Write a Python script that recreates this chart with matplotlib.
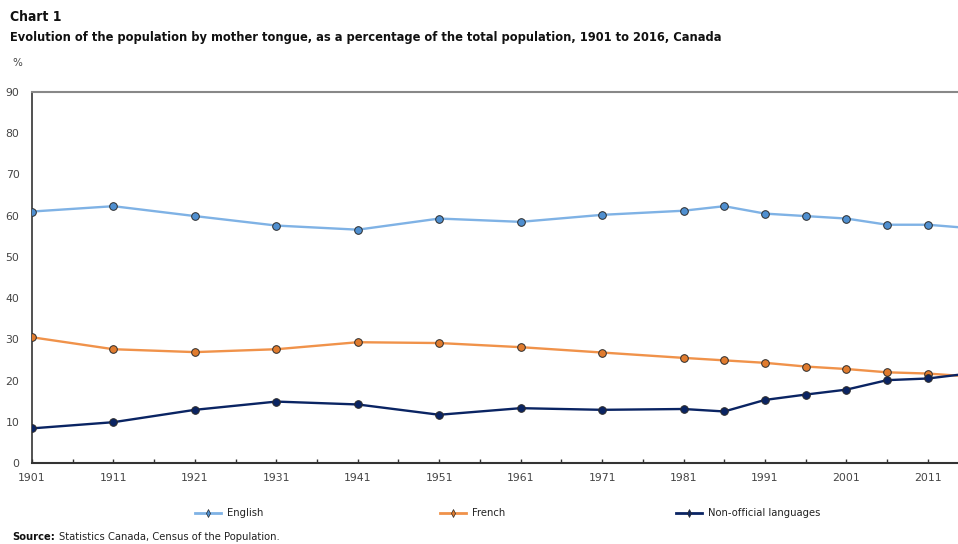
import matplotlib
matplotlib.use("Agg")
import matplotlib.pyplot as plt
from matplotlib.lines import Line2D

years = [1901, 1911, 1921, 1931, 1941, 1951, 1961, 1971, 1981, 1986, 1991, 1996, 2001, 2006, 2011, 2016]
english = [61.0, 62.3, 59.9, 57.6, 56.6, 59.3, 58.5, 60.2, 61.2, 62.3, 60.5, 59.9, 59.3, 57.8, 57.8, 57.0]
french = [30.5, 27.6, 26.9, 27.6, 29.3, 29.1, 28.1, 26.8, 25.5, 24.9, 24.3, 23.4, 22.8, 22.0, 21.7, 21.0]
nonofficial = [8.4, 9.9, 12.9, 14.9, 14.2, 11.7, 13.3, 12.9, 13.1, 12.5, 15.3, 16.6, 17.8, 20.1, 20.5, 21.7]
series_names = ["English", "French", "Non-official languages"]
xticks = list(range(1901, 2012, 10))
yticks = list(range(0, 91, 10))

line_colors = ["#7FB2E5", "#F0924A", "#0A2463"]
face_colors = ["#4F8FD0", "#E07B2E", "#0A2463"]

fig = plt.figure(figsize=(9.58, 5.44), dpi=100)
ax = fig.add_axes([32/958, 1-463/544, 1-32/958, (463-92)/544])

for vals, lc, fc in zip([english, french, nonofficial], line_colors, face_colors):
    ax.plot(years, vals, color=lc, lw=1.7, marker="o", markersize=5.5,
            markerfacecolor=fc, markeredgecolor="#2b2b2b", markeredgewidth=0.7,
            clip_on=True, zorder=3)

ax.set_xlim(1901, 2014.7)
ax.set_ylim(0, 90)
ax.set_yticks(yticks)
ax.set_xticks(xticks)
ax.set_xticks(list(range(1906, 2015, 10)), minor=True)
ax.tick_params(axis="x", which="both", direction="in", length=3, width=1, color="#333333", pad=7,
               labelsize=7.8, labelcolor="#444444")
ax.tick_params(axis="y", length=0, pad=9, labelsize=7.8, labelcolor="#444444")
ax.spines["right"].set_visible(False)
ax.spines["top"].set_color("#888888")
ax.spines["top"].set_linewidth(1.5)
ax.spines["left"].set_color("#333333")
ax.spines["bottom"].set_color("#333333")
ax.spines["left"].set_linewidth(1.2)
ax.spines["bottom"].set_linewidth(1.5)

fig.text(10/958, 1-17/544, "Chart 1", fontsize=10, fontweight="bold", color="#111111", va="center", ha="left",
         fontstretch="condensed")
fig.text(10/958, 1-37/544, "Evolution of the population by mother tongue, as a percentage of the total population, 1901 to 2016, Canada",
         fontsize=9.2, fontweight="bold", color="#111111", va="center", ha="left", fontstretch="condensed")
fig.text(12/958, 1-63/544, "%", fontsize=7.5, color="#444444", va="center", ha="left")

legx = [195/958, 440/958, 676/958]
for name, lc, fc, x in zip(series_names, line_colors, face_colors, legx):
    fig.add_artist(Line2D([x, x + 26/958], [1-513/544]*2, color=lc, lw=2, transform=fig.transFigure))
    fig.add_artist(Line2D([x + 13/958], [1-513/544], color=fc, marker="d", markersize=4,
                          markeredgecolor="#2b2b2b", markeredgewidth=0.5, transform=fig.transFigure))
    fig.text(x + 32/958, 1-513/544, name, fontsize=8, color="#222222", va="center", ha="left",
             fontstretch="condensed")

src = fig.text(12/958, 1-537/544, "Source:", fontsize=8, fontweight="bold", color="#111111", va="center", ha="left",
               fontstretch="condensed")
renderer = fig.canvas.get_renderer()
bb = src.get_window_extent(renderer)
fig.text((bb.x1 + 4) / 958, 1-537/544, "Statistics Canada, Census of the Population.", fontsize=8,
         color="#222222", va="center", ha="left", fontstretch="condensed")

fig.savefig("out.png", dpi=100)
